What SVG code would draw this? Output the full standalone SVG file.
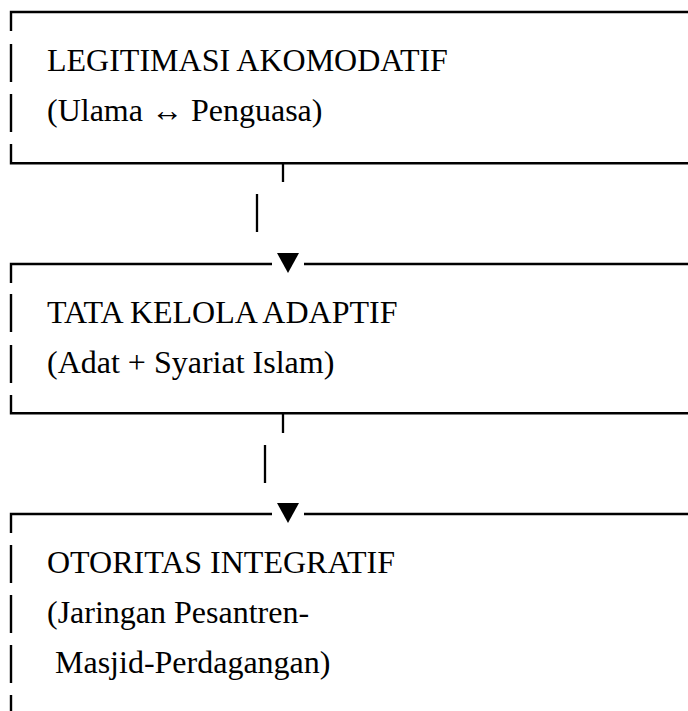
<svg xmlns="http://www.w3.org/2000/svg" width="688" height="711" viewBox="0 0 688 711">
<style>
.frame{fill:none;stroke:#000;stroke-width:2.4;stroke-linecap:butt}
.conn{fill:none;stroke:#000;stroke-width:2.3}
.head{fill:#000;stroke:none}
text{font-family:"Liberation Serif","Times New Roman",serif;font-size:32px;fill:#000}
</style>
<rect width="688" height="711" fill="#fff"/>
<g id="node-legitimasi">
<path class="frame" d="M11,31 V12 H688 M11,44 V82 M11,94 V132 M11,144 V163.3 H688"/>
<text x="47" y="71">LEGITIMASI AKOMODATIF</text>
<text x="47" y="121">(Ulama ↔ Penguasa)</text>
</g>
<g id="node-tatakelola">
<path class="frame" d="M11,283 V264 H272 M304,264 H688 M11,294 V332 M11,345 V383 M11,395 V413.3 H688"/>
<text x="47" y="323">TATA KELOLA ADAPTIF</text>
<text x="47" y="373">(Adat + Syariat Islam)</text>
</g>
<g id="node-otoritas">
<path class="frame" d="M11,533 V514 H272 M304,514 H688 M11,545 V583 M11,595 V633 M11,645 V683 M11,695 V711"/>
<text x="47" y="573">OTORITAS INTEGRATIF</text>
<text x="47" y="623">(Jaringan Pesantren-</text>
<text x="55" y="673">Masjid-Perdagangan)</text>
</g>
<g id="connectors">
<path class="conn" d="M283,163 V182 M257,194 V232"/>
<polygon class="head" points="277,253 299,253 288,273"/>
<path class="conn" d="M283,414 V433 M265,445 V483"/>
<polygon class="head" points="277,503 299,503 288,523"/>
</g>
</svg>
